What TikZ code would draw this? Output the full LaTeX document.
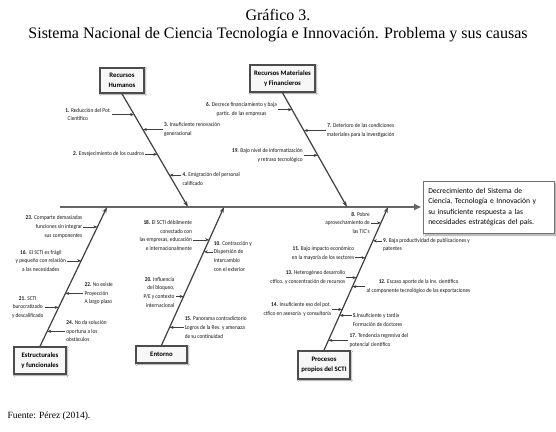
\documentclass[tikz,border=0pt]{standalone}
\usepackage{fontspec}
\setmainfont{Liberation Serif}
\newfontfamily\lblfont[FakeStretch=0.9]{Carlito}
\newfontfamily\boxfont{Carlito}
\usepackage{tikz}
\usetikzlibrary{arrows.meta, positioning, calc, shadows.blur}

\begin{document}
\begin{tikzpicture}[
        x=1pt, y=-1pt,
        spine/.style={-{Triangle[length=7pt, width=6pt]}, line width=2pt, color=black!60, shorten >=2pt},
        bone/.style={-{Stealth[length=6pt, width=4pt]}, line width=1.2pt, color=black!75},
        cause/.style={-{Stealth[length=4pt, width=3pt]}, line width=0.5pt, color=black!75},
        catbox/.style={draw=black!70, line width=1.5pt, fill=gray!6, align=center,
            font=\boxfont\fontsize{6.8}{9.5}\selectfont\bfseries, inner sep=1pt,
            blur shadow={shadow blur steps=5, shadow xshift=1pt, shadow yshift=-1pt}},
        effbox/.style={draw=black!55, line width=0.5pt, fill=white, align=left,
            text width=121pt, minimum height=52pt, inner sep=5pt,
            font=\boxfont\fontsize{7.6}{10.5}\selectfont,
            blur shadow={shadow blur steps=6, shadow xshift=2pt, shadow yshift=-2pt}},
        lbl/.style={font=\lblfont\fontsize{5.9}{8.6}\selectfont, inner sep=1pt, text=black!90},
    ]
    \newcommand{\cnum}[1]{\textbf{#1}}
    \fill[white] (0,0) rectangle (556,431);
    \useasboundingbox (0,0) rectangle (556,431);

        % Title
        \node[font=\fontsize{16}{19}\selectfont] (title) at (278,15) {Gráfico 3.};
        \node[font=\fontsize{16}{19}\selectfont] (subtitle) at (278,35)
            {Sistema Nacional de Ciencia Tecnología e Innovación. Problema y sus causas};

        % Effect and spine
        \node[effbox, anchor=west] (eff) at (423,207)
            {Decrecimiento del Sistema de\\Ciencia, Tecnología e Innovación y\\su insuficiente respuesta a las\\necesidades estratégicas del país.};
        \coordinate (tail) at (60,207);
        \draw[spine] (tail) -- (eff.west);

        % Categories
        \node[catbox, minimum width=44pt, minimum height=25pt] (rh) at (122,80.5) {Recursos\\Humanos};
        \node[catbox, minimum width=65pt, minimum height=27pt] (rmf) at (282.5,78.5) {Recursos Materiales\\y Financieros};
        \node[catbox, minimum width=52pt, minimum height=27pt] (est) at (40,360.5) {Estructurales\\y funcionales};
        \node[catbox, minimum width=51pt, minimum height=17pt] (ent) at (161.5,354.5) {Entorno};
        \node[catbox, minimum width=52pt, minimum height=28pt] (pro) at (324,365) {Procesos\\propios del SCTI};

        % Bones
        \coordinate (s1) at (188,207);
        \coordinate (s2) at (347,207);
        \coordinate (s3) at (107,207);
        \coordinate (s4) at (224,207);
        \coordinate (s5) at (388,207);
        \draw[bone] (rh.south) -- (s1);
        \draw[bone] (rmf.south) -- (s2);
        \draw[bone] (est.north) -- (s3);
        \draw[bone] (ent.north) -- (s4);
        \draw[bone] (pro.north) -- (s5);

        % Recursos Humanos
        \coordinate (h1) at ($(rh.south)!0.184!(s1)$);
        \coordinate (a1) at ($(h1)+(-22,0)$);
        \node[lbl, anchor=east, align=left] (c1) at (a1) {\cnum{1.} Reducción del Pot.\\\ \ Científico};
        \draw[cause] (a1) -- (h1);
        \coordinate (h3) at ($(rh.south)!0.316!(s1)$);
        \coordinate (a3) at ($(h3)+(20,0)$);
        \node[lbl, anchor=west, align=left] (c3) at (a3) {\cnum{3.} Insuficiente renovación\\generacional};
        \draw[cause] (a3) -- (h3);
        \coordinate (h2) at ($(rh.south)!0.535!(s1)$);
        \coordinate (a2) at ($(h2)+(-12,0)$);
        \node[lbl, anchor=east] (c2) at (a2) {\cnum{2.} Envejecimiento de los cuadros};
        \draw[cause] (a2) -- (h2);
        \coordinate (h4) at ($(rh.south)!0.719!(s1)$);
        \coordinate (a4) at ($(h4)+(12,0)$);
        \node[lbl, anchor=west, align=left, yshift=-3.5pt] (c4) at (a4) {\cnum{4.} Emigración del personal\\calificado};
        \draw[cause] (a4) -- (h4);

        % Recursos Materiales y Financieros
        \coordinate (h6) at ($(rmf.south)!0.148!(s2)$);
        \coordinate (a6) at ($(h6)+(-14,0)$);
        \node[lbl, anchor=east, align=center] (c6) at (a6) {\cnum{6.} Decrece financiamiento y baja\\partic. de las empresas};
        \draw[cause] (a6) -- (h6);
        \coordinate (h7) at ($(rmf.south)!0.330!(s2)$);
        \coordinate (a7) at ($(h7)+(22,0)$);
        \node[lbl, anchor=west, align=center] (c7) at (a7) {\cnum{7.} Deterioro de las condiciones\\materiales para la investigación};
        \draw[cause] (a7) -- (h7);
        \coordinate (h19) at ($(rmf.south)!0.548!(s2)$);
        \coordinate (a19) at ($(h19)+(-14,0)$);
        \node[lbl, anchor=east, align=right] (c19) at (a19) {\cnum{19.} Bajo nivel de informatización\\y retraso tecnológico};
        \draw[cause] (a19) -- (h19);

        % Estructurales y funcionales
        \coordinate (h23) at ($(s3)!0.143!(est.north)$);
        \coordinate (a23) at ($(h23)+(-14,0)$);
        \node[lbl, anchor=east, align=right] (c23) at (a23) {\cnum{23.} Comparte demasiadas\\funciones sin integrar\\sus componentes};
        \draw[cause] (a23) -- (h23);
        \coordinate (h16) at ($(s3)!0.386!(est.north)$);
        \coordinate (a16) at ($(h16)+(-14,0)$);
        \node[lbl, anchor=east, align=center] (c16) at (a16) {\cnum{16.}\ \ El SCTI es frágil\\y pequeño con relación\\a las necesidades};
        \draw[cause] (a16) -- (h16);
        \coordinate (h22) at ($(s3)!0.621!(est.north)$);
        \coordinate (a22) at ($(h22)+(18,0)$);
        \node[lbl, anchor=west, align=left] (c22) at (a22) {\cnum{22.} No existe\\Proyección\\A largo plazo};
        \draw[cause] (a22) -- (h22);
        \coordinate (h21) at ($(s3)!0.721!(est.north)$);
        \coordinate (a21) at ($(h21)+(-14,0)$);
        \node[lbl, anchor=east, align=center] (c21) at (a21) {\cnum{21.} SCTI\\burocratizado\\y descalificado};
        \draw[cause] (a21) -- (h21);
        \coordinate (h24) at ($(s3)!0.893!(est.north)$);
        \coordinate (a24) at ($(h24)+(18,0)$);
        \node[lbl, anchor=west, align=left] (c24) at (a24) {\cnum{24.} No da solución\\oportuna a los\\obstáculos};
        \draw[cause] (a24) -- (h24);

        % Entorno
        \coordinate (h18) at ($(s4)!0.237!(ent.north)$);
        \coordinate (a18) at ($(h18)+(-16,0)$);
        \node[lbl, anchor=east, align=right, yshift=4.3pt] (c18) at (a18) {\cnum{18.} El SCTI débilmente\\conectado con\\las empresas, educación\\e internacionalmente};
        \draw[cause] (a18) -- (h18);
        \coordinate (h10) at ($(s4)!0.324!(ent.north)$);
        \coordinate (a10) at ($(h10)+(9,0)$);
        \node[lbl, anchor=west, align=left, yshift=-4.3pt] (c10) at (a10) {\cnum{10.} Contracción y\\Dispersión de\\Intercambio\\con el exterior};
        \draw[cause] (a10) -- (h10);
        \coordinate (h20) at ($(s4)!0.647!(ent.north)$);
        \coordinate (a20) at ($(h20)+(-8,0)$);
        \node[lbl, anchor=east, align=right, yshift=4.3pt] (c20) at (a20) {\cnum{20.} Influencia\\del bloqueo,\\P/E y contexto\\internacional};
        \draw[cause] (a20) -- (h20);
        \coordinate (h15) at ($(s4)!0.871!(ent.north)$);
        \coordinate (a15) at ($(h15)+(14,0)$);
        \node[lbl, anchor=west, align=left] (c15) at (a15) {\cnum{15.} Panorama contradictorio\\Logros de la Rev. y amenaza\\de su continuidad};
        \draw[cause] (a15) -- (h15);

        % Procesos propios del SCTI
        \coordinate (h8) at ($(s5)!0.111!(pro.north)$);
        \coordinate (a8) at ($(h8)+(-10,0)$);
        \node[lbl, anchor=east, align=right] (c8) at (a8) {\cnum{8.} Pobre\\aprovechamiento de\\las TIC's};
        \draw[cause] (a8) -- (h8);
        \coordinate (h9) at ($(s5)!0.236!(pro.north)$);
        \coordinate (a9) at ($(h9)+(9,0)$);
        \node[lbl, anchor=west, align=left, yshift=-4.3pt] (c9) at (a9) {\cnum{9.} Baja productividad de publicaciones y\\patentes};
        \draw[cause] (a9) -- (h9);
        \coordinate (h11) at ($(s5)!0.354!(pro.north)$);
        \coordinate (a11) at ($(h11)+(-10,0)$);
        \node[lbl, anchor=east, align=right, yshift=4.3pt] (c11) at (a11) {\cnum{11.} Bajo impacto económico\\en la mayoría de los sectores};
        \draw[cause] (a11) -- (h11);
        \coordinate (h13) at ($(s5)!0.493!(pro.north)$);
        \coordinate (a13) at ($(h13)+(-10,0)$);
        \node[lbl, anchor=east, align=right] (c13) at (a13) {\cnum{13.} Heterogéneo desarrollo\\ctfico. y concentración de recursos};
        \draw[cause] (a13) -- (h13);
        \coordinate (h12) at ($(s5)!0.556!(pro.north)$);
        \coordinate (a12) at ($(h12)+(13,0)$);
        \node[lbl, anchor=west, align=center] (c12) at (a12) {\cnum{12.} Escaso aporte de la Inv. científica\\al componente tecnológico de las exportaciones};
        \draw[cause] (a12) -- (h12);
        \coordinate (h14) at ($(s5)!0.715!(pro.north)$);
        \coordinate (a14) at ($(h14)+(-10,0)$);
        \node[lbl, anchor=east, align=right] (c14) at (a14) {\cnum{14.} Insuficiente eso del pot.\\ctfico en asesoría\ \ y consultoría};
        \draw[cause] (a14) -- (h14);
        \coordinate (h5) at ($(s5)!0.757!(pro.north)$);
        \coordinate (a5) at ($(h5)+(12,0)$);
        \node[lbl, anchor=west, align=left, yshift=-4.3pt] (c5) at (a5) {\cnum{5.}Insuficiente y tardía\\Formación de doctores};
        \draw[cause] (a5) -- (h5);
        \coordinate (h17) at ($(s5)!0.931!(pro.north)$);
        \coordinate (a17) at ($(h17)+(20,0)$);
        \node[lbl, anchor=west, align=left] (c17) at (a17) {\cnum{17.} Tendencia regresiva del\\potencial científico};
        \draw[cause] (a17) -- (h17);

        % Source
        \node[anchor=west, font=\fontsize{9.5}{11}\selectfont] (src) at (4,416) {Fuente: Pérez (2014).};

    \end{tikzpicture}
\end{document}
